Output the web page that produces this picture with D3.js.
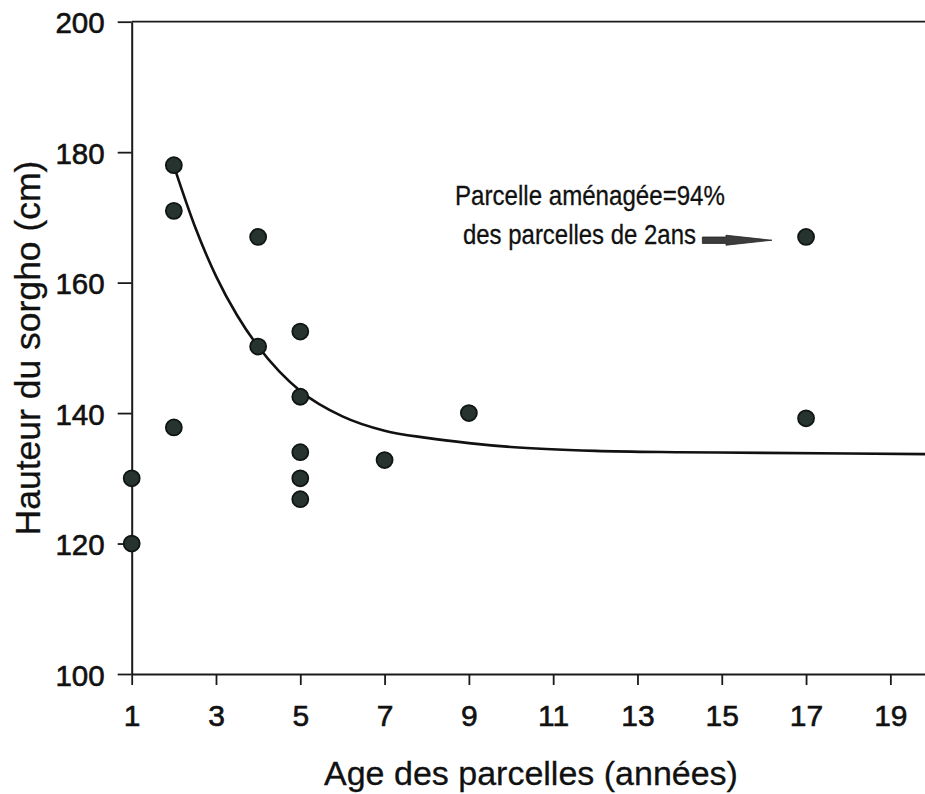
<!DOCTYPE html>
<html>
<head>
<meta charset="utf-8">
<script src="https://cdn.jsdelivr.net/npm/d3@7/dist/d3.min.js"></script>
<style>
  html, body { margin: 0; padding: 0; background: #fff; }
  svg { display: block; }
</style>
</head>
<body>
<script>
// Observed plots: age of plot (years) and sorghum height (cm)
const plotAge    = [1,   1,   2,   2,   2,     4,   4,     5,     5,     5,   5,   5,     7,     9,   17,  17];
const plotHeight = [130, 120, 178, 171, 137.8, 167, 150.2, 152.5, 142.5, 134, 130, 126.8, 132.8, 140, 167, 139.2];

// Fitted decay curve, sampled along the age axis
const curveAge    = [2,     2.5,   3,     3.5,   4,     4.5,   5,     6,     7,     8,     9,     10,    12,    14,    16,    18,    20];
const curveHeight = [177.9, 168.6, 161.0, 155.0, 150.2, 146.4, 143.4, 139.5, 137.3, 136.2, 135.4, 134.8, 134.2, 134.0, 133.9, 133.8, 133.7];

// Axis ticks
const xTicks = [1, 3, 5, 7, 9, 11, 13, 15, 17, 19];
const yTicks = [100, 120, 140, 160, 180, 200];

// Annotation text lines
const noteLines = ["Parcelle aménagée=94%", "des parcelles de 2ans"];

const W = 925, H = 794;
const svg = d3.select("body").append("svg").attr("width", W).attr("height", H);

const x = d3.scaleLinear().domain([1, 20]).range([131.7, 932.5]);
const y = d3.scaleLinear().domain([100, 200]).range([674, 21.7]);

const tickFont = "'Liberation Sans', Arial, Helvetica, sans-serif";
const ink = "#111";

// Frame line along the top of the plot
svg.append("line")
  .attr("x1", x(1)).attr("x2", x(20))
  .attr("y1", y(200)).attr("y2", y(200))
  .attr("stroke", "#1a1a1a").attr("stroke-width", 1.8);

// Y axis
const gy = svg.append("g")
  .attr("transform", `translate(${x(1)},0)`)
  .call(d3.axisLeft(y).tickValues(yTicks).tickSize(14).tickSizeOuter(0).tickPadding(13));
gy.select(".domain").attr("stroke", "#1a1a1a").attr("stroke-width", 2);
gy.selectAll(".tick line").attr("stroke", "#1a1a1a").attr("stroke-width", 1.8);
gy.selectAll(".tick text")
  .attr("font-family", tickFont).attr("font-size", 29.5).attr("fill", ink)
  .attr("stroke", ink).attr("stroke-width", 0.6)
  .attr("dy", "0.38em");

// X axis
const gx = svg.append("g")
  .attr("transform", `translate(0,${y(100)})`)
  .call(d3.axisBottom(x).tickValues(xTicks).tickSize(11).tickSizeOuter(0).tickPadding(20));
gx.select(".domain").attr("stroke", "#1a1a1a").attr("stroke-width", 2);
gx.selectAll(".tick line").attr("stroke", "#1a1a1a").attr("stroke-width", 1.8);
gx.selectAll(".tick text")
  .attr("font-family", tickFont).attr("font-size", 30).attr("fill", ink)
  .attr("stroke", ink).attr("stroke-width", 0.6);

// Axis titles
svg.append("text")
  .attr("x", 531).attr("y", 785)
  .attr("text-anchor", "middle")
  .attr("font-family", tickFont).attr("font-size", 34).attr("fill", ink)
  .attr("stroke", ink).attr("stroke-width", 0.3)
  .text("Age des parcelles (années)");

svg.append("text")
  .attr("transform", "translate(40,348) rotate(-90)")
  .attr("text-anchor", "middle")
  .attr("font-family", tickFont).attr("font-size", 35.5).attr("fill", ink)
  .attr("stroke", ink).attr("stroke-width", 0.3)
  .text("Hauteur du sorgho (cm)");

// Fitted curve
const line = d3.line()
  .x((d, i) => x(curveAge[i]))
  .y((d, i) => y(curveHeight[i]))
  .curve(d3.curveMonotoneX);
svg.append("path")
  .datum(curveAge)
  .attr("d", line)
  .attr("fill", "none")
  .attr("stroke", "#111")
  .attr("stroke-width", 2.6);

// Observation markers
svg.append("g").selectAll("circle")
  .data(plotAge)
  .join("circle")
  .attr("cx", (d, i) => x(plotAge[i]))
  .attr("cy", (d, i) => y(plotHeight[i]))
  .attr("r", 8)
  .attr("fill", "#26332f")
  .attr("stroke", "#0f1513")
  .attr("stroke-width", 1.8);

// Annotation: text with arrow pointing at the 17-year plot
const narrow = "'Liberation Sans Narrow', 'Arial Narrow', 'Liberation Sans', sans-serif";
const note = svg.append("g").attr("font-family", narrow).attr("font-size", 28)
  .attr("fill", ink).attr("stroke", ink).attr("stroke-width", 0.3);
note.append("text").attr("x", x(8.67)).attr("y", y(171.9))
  .attr("textLength", 270).attr("lengthAdjust", "spacingAndGlyphs")
  .text(noteLines[0]);
note.append("text").attr("x", x(8.86)).attr("y", y(165.9))
  .attr("textLength", 233).attr("lengthAdjust", "spacingAndGlyphs")
  .text(noteLines[1]);

// Arrow: short thick shaft and a long tapering head
const ax0 = x(14.54), axh = x(15.1), axTip = x(16.19), ay = y(166.5);
svg.append("path")
  .attr("d", `M${ax0},${ay - 3.2} L${axh},${ay - 3.2} L${axh},${ay - 5} L${axTip},${ay} L${axh},${ay + 5} L${axh},${ay + 3.2} L${ax0},${ay + 3.2} Z`)
  .attr("fill", "#3c3c3c")
  .attr("stroke", "#222")
  .attr("stroke-width", 0.8);
</script>
</body>
</html>
